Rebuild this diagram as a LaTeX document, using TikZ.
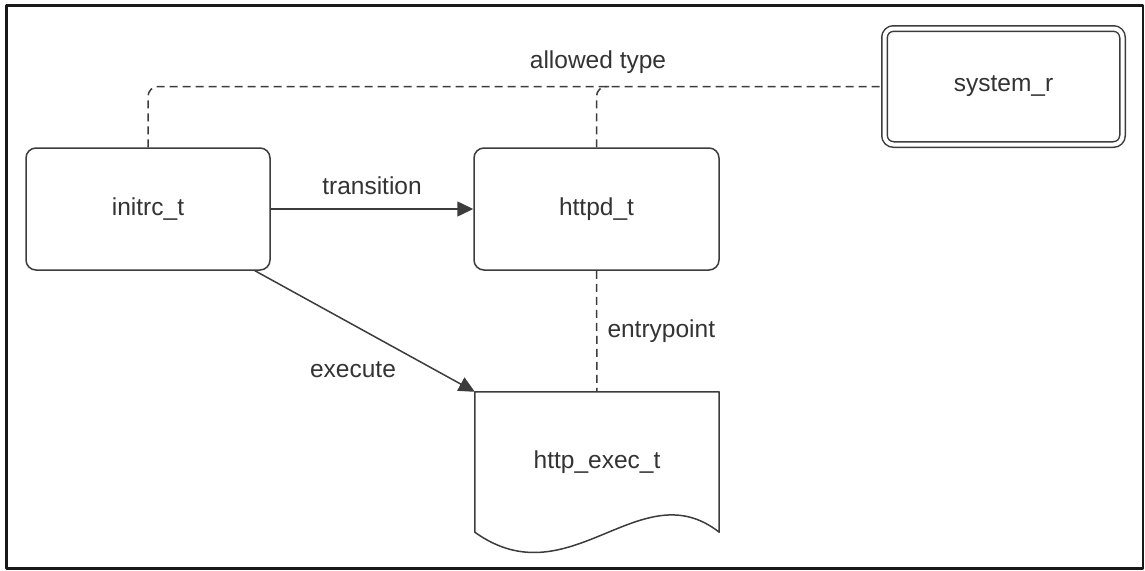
\documentclass[tikz,border=0pt]{standalone}
\usepackage{fontspec}
\setmainfont{Liberation Sans}
\usetikzlibrary{arrows.meta}
\definecolor{linecol}{HTML}{3C3C3C}
\definecolor{textcol}{HTML}{333333}
\begin{document}
\begin{tikzpicture}[x=1pt, y=-1pt, line join=round, line cap=round,
  font=\fontsize{24.5}{28}\selectfont, text=textcol,
  >={Triangle[length=16pt,width=15pt]},
  box/.style={draw=linecol, line width=1.5pt, rounded corners=10pt, minimum width=244pt, minimum height=122pt},
  dashline/.style={draw=linecol, line width=1.5pt, line cap=butt, dash pattern=on 8pt off 5pt},
  arr/.style={draw=linecol, line width=1.5pt, ->},
  lbl/.style={inner sep=0pt}]
\useasboundingbox (0,0) rectangle (1145,570);
% frame
\draw[line width=2.5pt, black!90] (6.5,5.5) rectangle (1143,568.5);
\draw[line width=1pt, black!90] (7,6.5) -- (1143,6.5);

% nodes
\node[box] (initrc) at (148,209) {initrc\_t};
\node[box, minimum width=245pt] (httpd) at (596.5,209) {httpd\_t};
\node[box, minimum width=238pt, minimum height=116pt, rounded corners=9pt, double, double distance=4pt, outer sep=3.5pt] (system) at (1003.5,86.5) {system\_r};
\node[minimum width=244pt, minimum height=140pt, inner sep=0pt] (exec) at (597,462) {http\_exec\_t};
\draw[linecol, line width=1.5pt] (exec.south west) -- (exec.north west) -- (exec.north east) -- (exec.south east)
  .. controls +(-79,-62) and +(95,68) .. (exec.south west);

% connectors
\coordinate (join) at (609,86.5);
\draw[dashline, rounded corners=10pt] (initrc.north) |- (system.west);
\draw[dashline, rounded corners=10pt] (httpd.north) |- (join);
\node[lbl] (allowed) at (598,62) {allowed type};
\draw[arr] (initrc) -- (httpd) node[lbl, midway, above=14pt] (trans) {transition};
\draw[arr] (initrc.-30) -- (exec.north west);
\node[lbl] (execute) at (353,370) {execute};
\draw[dashline] (httpd) -- (exec) node[lbl, midway, right=10pt] (entry) {entrypoint};
\end{tikzpicture}
\end{document}
